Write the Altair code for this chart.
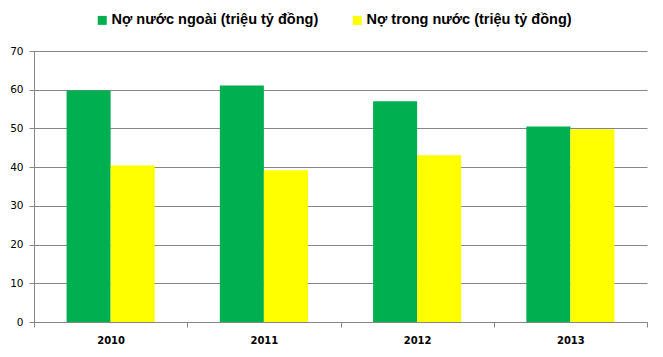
import altair as alt
import pandas as pd

years = ["2010", "2011", "2012", "2013"]
series = ["Nợ nước ngoài (triệu tỷ đồng)", "Nợ trong nước (triệu tỷ đồng)"]
foreign = [59.8, 61.1, 57.0, 50.5]
domestic = [40.4, 39.2, 43.1, 49.8]
colors = ["#00B050", "#FFFF00"]
y_ticks = [0, 10, 20, 30, 40, 50, 60, 70]

rows = []
for i, yr in enumerate(years):
    rows.append({"year": yr, "series": series[0], "value": foreign[i]})
    rows.append({"year": yr, "series": series[1], "value": domestic[i]})
df = pd.DataFrame(rows)

grid = "#868686"

chart = alt.Chart(df).mark_bar().encode(
    x=alt.X(
        "year:N", sort=years, title=None,
        scale=alt.Scale(paddingInner=0, paddingOuter=0),
        axis=alt.Axis(
            labelAngle=0, tickBand="extent", labelFont="DejaVu Sans",
            labelFontWeight="bold", labelFontSize=10, labelColor="#000000",
            labelPadding=8, tickSize=5, tickColor=grid, domainColor=grid,
            grid=False,
        ),
    ),
    xOffset=alt.XOffset(
        "series:N", sort=series,
        scale=alt.Scale(paddingInner=0, paddingOuter=0.74),
    ),
    y=alt.Y(
        "value:Q", title=None,
        scale=alt.Scale(domain=[0, 70], nice=False),
        axis=alt.Axis(
            values=y_ticks, labelFont="DejaVu Sans", labelFontSize=10.5,
            labelColor="#000000", labelPadding=6, tickSize=5, tickColor=grid,
            domainColor=grid, gridColor=grid, gridOpacity=1,
        ),
    ),
    color=alt.Color(
        "series:N", sort=series,
        scale=alt.Scale(domain=series, range=colors),
        legend=alt.Legend(
            title=None, orient="none", direction="horizontal",
            legendX=61, legendY=-38, symbolType="square", symbolSize=81,
            symbolStrokeWidth=0, labelFont="Liberation Sans",
            labelFontWeight="bold", labelFontSize=14.5, labelColor="#000000",
            labelLimit=400, columnPadding=31, labelOffset=2,
        ),
    ),
).properties(
    width=613, height=271,
    padding={"left": 26, "top": 43, "right": 8, "bottom": 27},
    autosize=alt.AutoSizeParams(type="none"),
).configure_view(stroke=None)

chart.save("out.html", embed_options={"renderer": "svg", "actions": False})
